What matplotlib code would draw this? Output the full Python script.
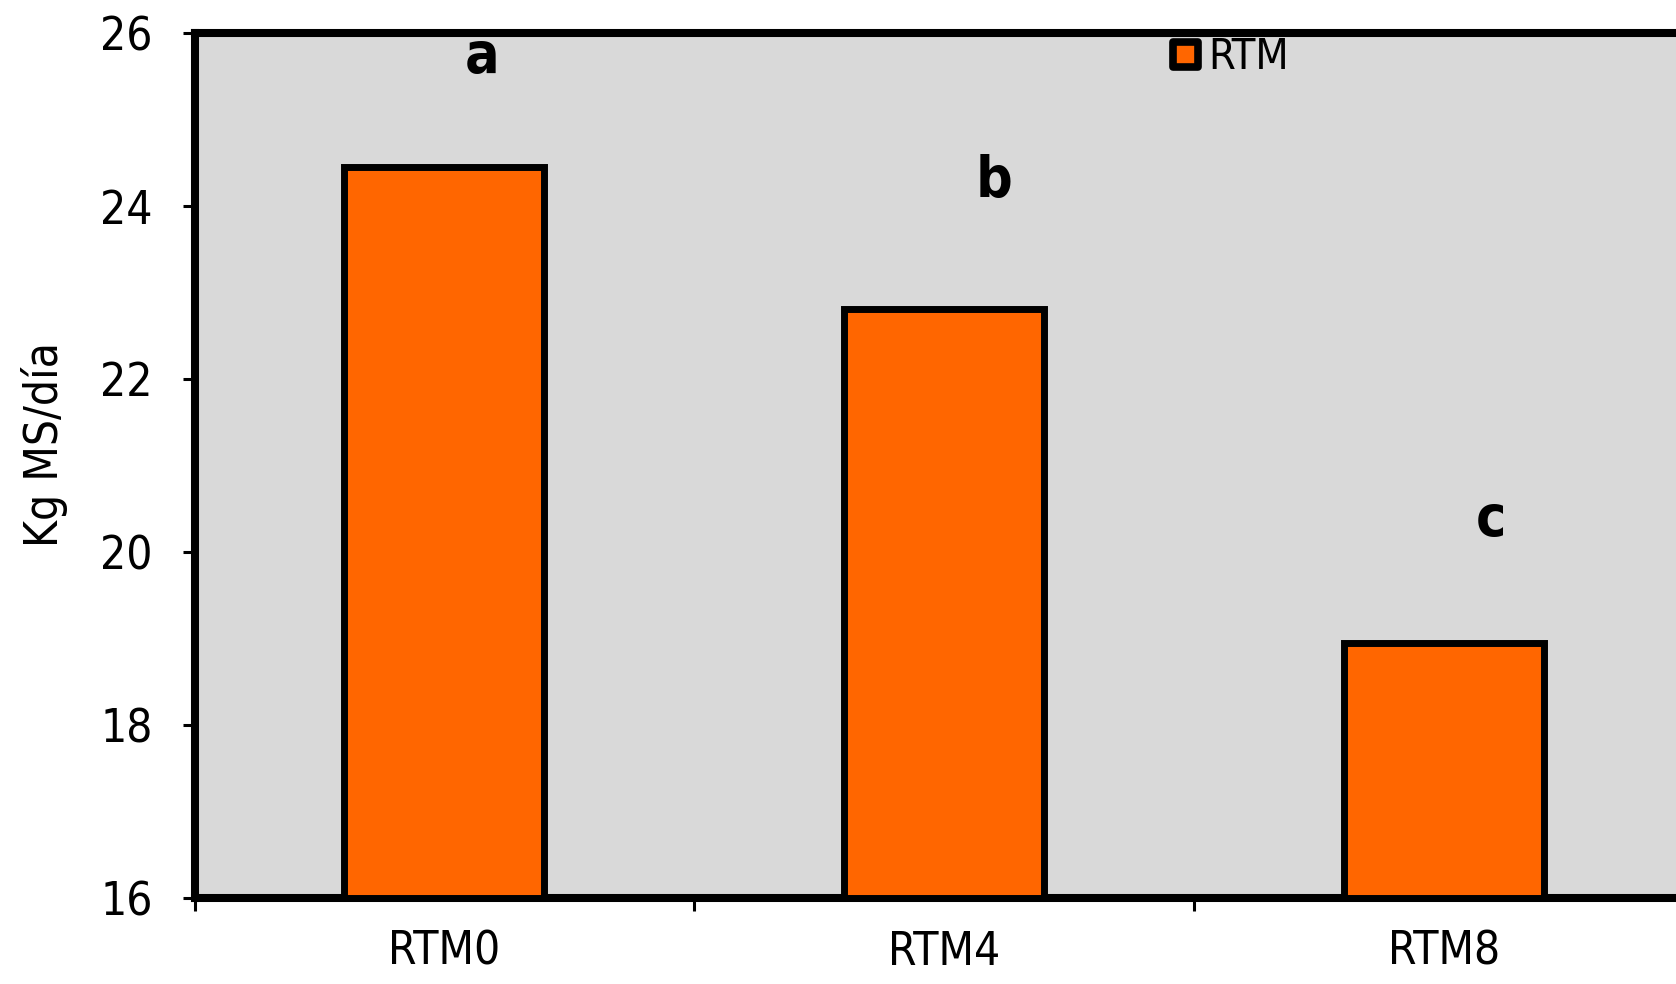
import matplotlib
matplotlib.use("Agg")
import matplotlib.pyplot as plt
from matplotlib.lines import Line2D
from matplotlib.markers import MarkerStyle

categories = ["RTM0", "RTM4", "RTM8"]
values = [24.45, 22.81, 18.95]
letters = ["a", "b", "c"]
letter_y = [25.72, 24.28, 20.36]
letter_dx = [0.075, 0.099, 0.093]
series_name = "RTM"
y_ticks = [16, 18, 20, 22, 24, 26]

plt.rcParams['font.family'] = ['DejaVu Sans']
plt.rcParams['font.stretch'] = 'condensed'

fig = plt.figure(figsize=(16.76, 9.84), dpi=100)
ax = fig.add_axes([194.5/1676, 86/984, (1694-194.5)/1676, (898-33)/984])
ax.set_facecolor("#d9d9d9")

x = [i + 0.5 for i in range(len(categories))]
ax.bar(x, [v - 16 for v in values], bottom=16, width=0.4, color="#ff6600",
       edgecolor="black", linewidth=5, zorder=3)

for xi, lt, ly, dx in zip(x, letters, letter_y, letter_dx):
    ax.text(xi + dx, ly, lt, ha="center", va="center", fontsize=41,
            fontweight="bold", zorder=4)

ax.set_xlim(0, 3)
ax.set_ylim(16, 26)
ax.set_yticks(y_ticks)
ax.set_yticklabels([str(t) for t in y_ticks], fontsize=33)
ax.set_xticks([0, 1, 2, 3])
ax.set_xticklabels([])
ax.set_xticks(x, minor=True)
ax.set_xticklabels(categories, minor=True, fontsize=33)
ax.tick_params(axis="x", which="minor", length=0, pad=23)
ax.tick_params(axis="x", which="major", length=9, width=2.2, direction="out")
ax.tick_params(axis="y", length=9, width=2.2, direction="out", pad=21)
for s in ax.spines.values():
    s.set_linewidth(5.8)

ax.set_ylabel("Kg MS/día", fontsize=33)
ax.yaxis.label.set_va("center")
ax.yaxis.set_label_coords(-0.0997, 0.524)

handle = Line2D([], [], marker=MarkerStyle("s", joinstyle="round"), linestyle="none",
                markersize=18, markerfacecolor="#ff6600", markeredgecolor="black",
                markeredgewidth=5.5)
ax.legend([handle], [series_name], loc="center left", bbox_to_anchor=(0.646, 0.972),
          frameon=False, fontsize=31, handletextpad=0.05, borderaxespad=0,
          borderpad=0, handlelength=1.0)

fig.savefig("out.png", dpi=100)
